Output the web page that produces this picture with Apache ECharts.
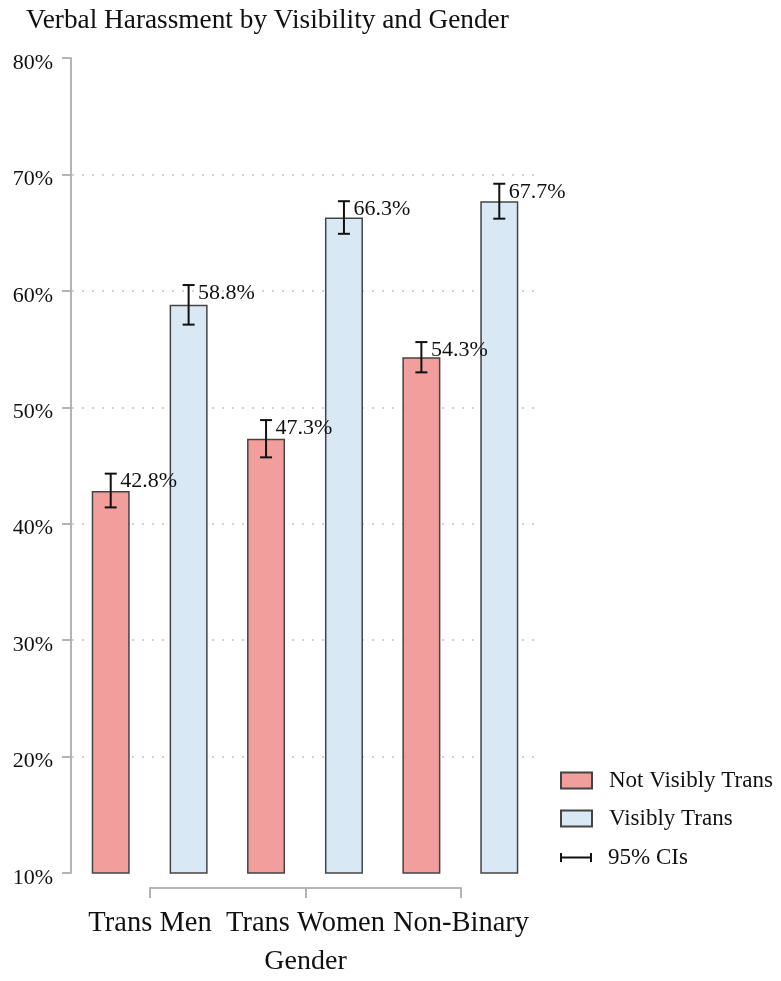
<!DOCTYPE html>
<html>
<head>
<meta charset="utf-8">
<title>Verbal Harassment by Visibility and Gender</title>
<script src="https://cdn.jsdelivr.net/npm/echarts@6/dist/echarts.min.js"></script>
<style>
  html, body { margin: 0; padding: 0; background: #ffffff; }
  #chart { width: 781px; height: 981px; }
</style>
</head>
<body>
<div id="chart"></div>
<script>
// Share of respondents reporting verbal harassment (%), by gender and visibility
const genders = ['Trans Men', 'Trans Women', 'Non-Binary'];
const notVisible = [42.8, 47.3, 54.3];
const visible = [58.8, 66.3, 67.7];
// 95% confidence intervals
const notVisibleLow = [41.4, 45.7, 53.0];
const notVisibleHigh = [44.3, 48.9, 55.6];
const visibleLow = [57.1, 64.9, 66.2];
const visibleHigh = [60.5, 67.7, 69.2];
const yTicks = [10, 20, 30, 40, 50, 60, 70, 80];

const FONT = '"Liberation Serif", "Times New Roman", serif';
const BAR_W = 38;
const BAR_GAP = 1.05;                 // gap between paired bars, as a share of bar width
const PAIR_OFFSET = BAR_W * (1 + BAR_GAP) / 2;

function ciData(values, low, high) {
  return values.map((v, i) => [i, low[i], high[i], v]);
}

function errorBar(offset) {
  return function (params, api) {
    const c = api.value(0);
    const lo = api.coord([c, api.value(1)]);
    const hi = api.coord([c, api.value(2)]);
    const x = lo[0] + offset;
    const hw = 6;
    const st = { stroke: '#111111', lineWidth: 2 };
    return {
      type: 'group',
      children: [
        { type: 'line', shape: { x1: x, y1: hi[1], x2: x, y2: lo[1] }, style: st },
        { type: 'line', shape: { x1: x - hw, y1: hi[1], x2: x + hw, y2: hi[1] }, style: st },
        { type: 'line', shape: { x1: x - hw, y1: lo[1], x2: x + hw, y2: lo[1] }, style: st },
        {
          type: 'text', x: x + 9.5, y: hi[1] + 8,
          style: {
            text: api.value(3).toFixed(1) + '%',
            fill: '#111111', font: '22px ' + FONT,
            align: 'left', verticalAlign: 'middle'
          }
        }
      ]
    };
  };
}

const chart = echarts.init(document.getElementById('chart'), null, { renderer: 'canvas' });

const barBorder = { borderColor: '#444444', borderWidth: 1.5 };
const legendText = { fontFamily: FONT, fontSize: 23, color: '#111111', padding: [0, 0, 0, 12] };

chart.setOption({
  backgroundColor: '#ffffff',
  animation: false,
  title: {
    text: 'Verbal Harassment by Visibility and Gender',
    left: 26, top: 7, padding: 0,
    textStyle: { fontFamily: FONT, fontSize: 27.3, fontWeight: 'normal', color: '#111111' }
  },
  legend: [
    {
      orient: 'vertical', left: 560, top: 769, padding: 0,
      itemWidth: 31, itemHeight: 16, itemGap: 15,
      data: [
        { name: 'Not Visibly Trans', icon: 'rect' },
        { name: 'Visibly Trans', icon: 'rect' }
      ],
      textStyle: legendText
    },
    {
      orient: 'vertical', left: 560, top: 846, padding: 0,
      itemWidth: 32, itemHeight: 9,
      data: [{ name: '95% CIs', icon: 'path://M0,0H2V9H0Z M0,3.5H32V5.5H0Z M30,0H32V9H30Z' }],
      textStyle: Object.assign({}, legendText, { padding: [0, 0, 0, 11] })
    }
  ],
  grid: [
    { left: 72, right: 243, top: 58, bottom: 108 },
    { left: 150, right: 320, top: 58, bottom: 108 }
  ],
  xAxis: [
    {
      type: 'category', gridIndex: 0, data: genders,
      axisLine: { show: false }, axisTick: { show: false }, axisLabel: { show: false }
    },
    {
      type: 'category', gridIndex: 1, data: genders, boundaryGap: false,
      position: 'bottom', offset: 23,
      name: 'Gender', nameLocation: 'middle', nameGap: 60,
      nameTextStyle: { fontFamily: FONT, fontSize: 28, color: '#111111' },
      axisLine: { show: true, onZero: false, lineStyle: { color: '#b4b4b4', width: 2 } },
      axisTick: { show: true, length: 10, lineStyle: { color: '#b4b4b4', width: 2 } },
      axisLabel: { interval: 0, margin: 21, fontFamily: FONT, fontSize: 28.5, color: '#111111' },
      splitLine: { show: false }
    }
  ],
  yAxis: [
    {
      type: 'value', gridIndex: 0,
      min: yTicks[0], max: yTicks[yTicks.length - 1], interval: 10,
      offset: 1,
      axisLine: { show: true, lineStyle: { color: '#b4b4b4', width: 2 } },
      axisTick: { show: true, length: 9, lineStyle: { color: '#b4b4b4', width: 2 } },
      axisLabel: {
        margin: 18, verticalAlign: 'top', lineHeight: 10, formatter: '{value}%',
        fontFamily: FONT, fontSize: 22, color: '#111111'
      },
      splitLine: {
        show: true, showMinLine: false, showMaxLine: false,
        lineStyle: { color: '#c4c4c4', width: 1.5, type: [2, 8], dashOffset: -10 }
      }
    },
    { type: 'value', gridIndex: 1, show: false, min: 0, max: 1 }
  ],
  series: [
    {
      name: 'Not Visibly Trans', type: 'bar', xAxisIndex: 0, yAxisIndex: 0,
      data: notVisible, barWidth: BAR_W, barGap: (BAR_GAP * 100) + '%',
      itemStyle: Object.assign({ color: '#f29e9c' }, barBorder)
    },
    {
      name: 'Visibly Trans', type: 'bar', xAxisIndex: 0, yAxisIndex: 0,
      data: visible, barWidth: BAR_W, barGap: (BAR_GAP * 100) + '%',
      itemStyle: Object.assign({ color: '#d9e8f5' }, barBorder)
    },
    {
      name: '95% CIs', type: 'custom', xAxisIndex: 0, yAxisIndex: 0, z: 5,
      itemStyle: { color: '#111111' },
      renderItem: errorBar(-PAIR_OFFSET),
      encode: { x: 0, y: [1, 2] },
      data: ciData(notVisible, notVisibleLow, notVisibleHigh)
    },
    {
      name: '95% CIs', type: 'custom', xAxisIndex: 0, yAxisIndex: 0, z: 5,
      itemStyle: { color: '#111111' },
      renderItem: errorBar(PAIR_OFFSET),
      encode: { x: 0, y: [1, 2] },
      data: ciData(visible, visibleLow, visibleHigh)
    }
  ]
});
</script>
</body>
</html>
